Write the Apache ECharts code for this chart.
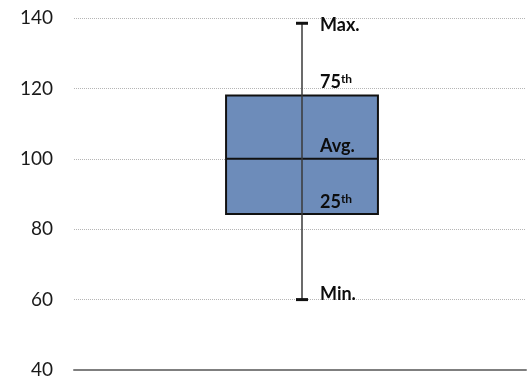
<!DOCTYPE html>
<html>
<head>
<meta charset="utf-8">
<script src="https://cdn.jsdelivr.net/npm/echarts@6/dist/echarts.min.js"></script>
<style>html,body{margin:0;padding:0;background:#fff}#c{width:527px;height:382px}</style>
</head>
<body>
<div id="c"></div>
<script>
// ---- data ----
const categories = ['Distribution'];
const minVals = [60];
const q1Vals = [84.3];
const medianVals = [100];
const q3Vals = [118];
const maxVals = [138.5];
const yMin = 40, yMax = 140, yInterval = 20;
// label texts: [main, superscript]
const labelMax = ['Max.', ''];
const labelQ3 = ['75', 'th'];
const labelAvg = ['Avg.', ''];
const labelQ1 = ['25', 'th'];
const labelMin = ['Min.', ''];

const data = categories.map((c, i) => [i, minVals[i], q1Vals[i], medianVals[i], q3Vals[i], maxVals[i]]);

const rich = {
  b: { fontFamily: 'Lato', fontWeight: 'bold', fontSize: 18, fill: '#0d0d0d', color: '#0d0d0d' },
  s: { fontFamily: 'Lato', fontWeight: 'bold', fontSize: 12, fill: '#0d0d0d', color: '#0d0d0d', verticalAlign: 'top', padding: [0, 0, 6, 0] }
};
function lbl(pair) {
  return '{b|' + pair[0] + '}' + (pair[1] ? '{s|' + pair[1] + '}' : '');
}

function renderItem(params, api) {
  const x = api.value(0);
  const pMin = api.coord([x, api.value(1)]);
  const pQ1 = api.coord([x, api.value(2)]);
  const pMed = api.coord([x, api.value(3)]);
  const pQ3 = api.coord([x, api.value(4)]);
  const pMax = api.coord([x, api.value(5)]);
  const band = api.size([1, 0])[0];
  const half = band * 0.168;
  const cx = pMed[0] + 2;
  const capHalf = 6;
  const tx = cx + 18;
  const mk = (pair, y) => ({
    type: 'text', x: tx, y: y,
    style: { text: lbl(pair), rich: rich, align: 'left', verticalAlign: 'middle', fill: '#0d0d0d' }
  });
  return {
    type: 'group',
    children: [
      { type: 'rect', shape: { x: cx - half, y: pQ3[1], width: 2 * half, height: pQ1[1] - pQ3[1] },
        style: { fill: '#6d8cba', stroke: '#111', lineWidth: 2 } },
      { type: 'line', shape: { x1: cx - half, y1: pMed[1], x2: cx + half, y2: pMed[1] },
        style: { stroke: '#111', lineWidth: 2 } },
      { type: 'line', shape: { x1: cx, y1: pMax[1], x2: cx, y2: pMin[1] },
        style: { stroke: '#3a3a3a', lineWidth: 1.5 } },
      { type: 'line', shape: { x1: cx - capHalf, y1: pMax[1], x2: cx + capHalf, y2: pMax[1] },
        style: { stroke: '#111', lineWidth: 3 } },
      { type: 'line', shape: { x1: cx - capHalf, y1: pMin[1], x2: cx + capHalf, y2: pMin[1] },
        style: { stroke: '#111', lineWidth: 3 } },
      mk(labelMax, pMax[1] + 2),
      mk(labelQ3, pQ3[1] - 13),
      mk(labelAvg, pMed[1] - 13),
      mk(labelQ1, pQ1[1] - 12),
      mk(labelMin, pMin[1] - 5)
    ]
  };
}

const chart = echarts.init(document.getElementById('c'), null, { renderer: 'canvas' });
chart.setOption({
  animation: false,
  backgroundColor: '#fff',
  grid: { left: 74, right: 1, top: 18, bottom: 12, containLabel: false },
  xAxis: {
    type: 'category', data: categories,
    axisLine: { show: true, lineStyle: { color: '#7f7f7f', width: 2 } },
    axisTick: { show: false }, axisLabel: { show: false }, splitLine: { show: false }
  },
  yAxis: {
    type: 'value', min: yMin, max: yMax, interval: yInterval,
    axisLine: { show: false }, axisTick: { show: false },
    axisLabel: { fontFamily: 'Lato', fontSize: 19, color: '#1a1a1a', margin: 21 },
    splitLine: { show: true, lineStyle: { color: '#b5b5b5', type: 'dotted', width: 1 } }
  },
  series: [{
    type: 'custom',
    renderItem: renderItem,
    data: data,
    encode: { x: 0, y: [1, 2, 3, 4, 5] },
    z: 5
  }]
});
</script>
</body>
</html>
